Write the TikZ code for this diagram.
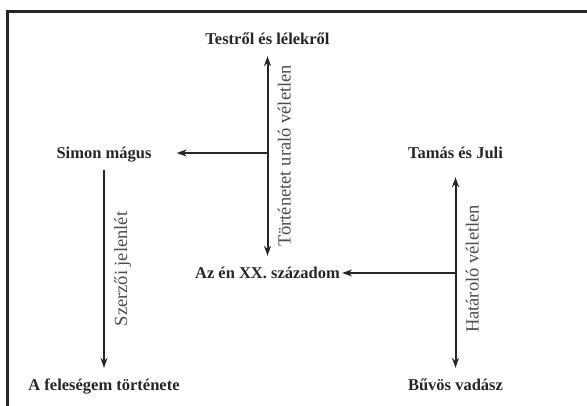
\documentclass[tikz,border=0pt]{standalone}
\usepackage{fontspec}
\setmainfont{Liberation Serif}
\usetikzlibrary{arrows.meta}

\tikzset{
	mu/.style={font=\fontsize{16.5}{18}\selectfont\bfseries, text=black!85, anchor=base, inner xsep=2pt, inner ysep=11pt, text height=12pt, text depth=0pt},
	kapcsolat/.style={font=\fontsize{18.5}{20}\selectfont, text=black!70, rotate=90, anchor=north, inner xsep=0pt, inner ysep=10pt, text height=12pt, text depth=0pt},
	nyil/.style={line width=2pt, draw=black!85, >={Stealth[length=10pt,width=7pt]}},
}

\begin{document}
\begin{tikzpicture}[x=1pt,y=1pt]
		\useasboundingbox (0,0) rectangle (587,406);
		\draw[line width=3pt, black!85] (7.5,0) -- (7.5,394.5) -- (587,394.5);
		% muvek
		\node[mu] (testrol) at (267.5,361) {Testről és lélekről};
		\node[mu] (simon) at (104,247) {Simon mágus};
		\node[mu] (tamas) at (455.5,247) {Tamás és Juli};
		\node[mu] (azen) at (267.5,127) {Az én XX. századom};
		\node[mu] (feleseg) at (104,15) {A feleségem története};
		\node[mu] (buvos) at (455.5,15) {Bűvös vadász};
		% kapcsolatok
		\draw[nyil, <->] (testrol) -- (azen) node[kapcsolat, midway]{Történetet uraló véletlen};
		\draw[nyil, ->, shorten >=23pt] (testrol |- simon) -- (simon.east);
		\draw[nyil, ->] (simon) -- (feleseg) node[kapcsolat, midway]{Szerzői jelenlét};
		\draw[nyil, <->, shorten <=7pt] (tamas) -- (buvos) node[kapcsolat, midway]{Határoló véletlen};
		\draw[nyil, ->] (tamas |- azen) -- (azen);
\end{tikzpicture}
\end{document}
